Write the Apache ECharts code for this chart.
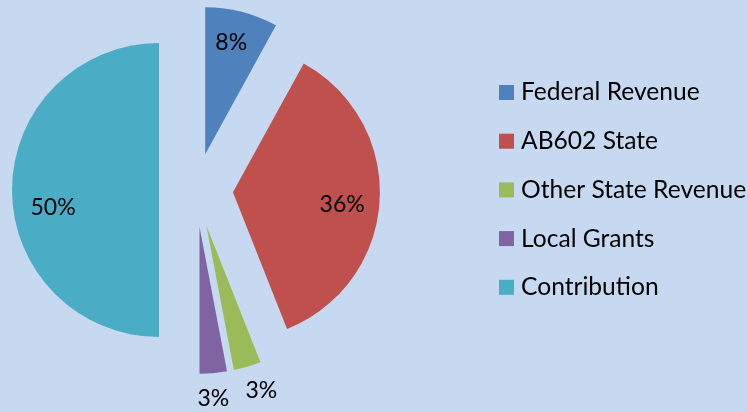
<!DOCTYPE html>
<html><head><meta charset="utf-8">
<script src="https://cdn.jsdelivr.net/npm/echarts@6/dist/echarts.min.js"></script>
<style>html,body{margin:0;padding:0;background:#C6D9F1;}#c{width:748px;height:412px;}</style>
</head><body><div id="c"></div>
<script>
var categories = ['Federal Revenue', 'AB602 State', 'Other State Revenue', 'Local Grants', 'Contribution'];
var values = [8, 36, 3, 3, 50];
var colors = ['#4F81BD', '#C0504D', '#9BBB59', '#8064A2', '#4BACC6'];

var CX = 196, CY = 190, R = 147, OFF = 37;
// label placement: fraction of radius from the slice apex, and angle tweak (deg)
var labelFrac = [0.782, 0.748, 1.186, 1.175, 0.731];
var labelTurn = [-1.3, 3, -2.2, 0.8, -9.6];

var total = values.reduce(function (a, b) { return a + b; }, 0);
function midAngle(i) {
  var s = 0; for (var k = 0; k < i; k++) s += values[k];
  return (s + values[i] / 2) / total * 360;
}
// shift from default inside position (half radius + 3px) to wanted position
function labelShift(i) {
  var a = midAngle(i) * Math.PI / 180;
  var b = (midAngle(i) + labelTurn[i]) * Math.PI / 180;
  var d = labelFrac[i] * R, h = 0.5 * R + 3;
  return [d * Math.sin(b) - h * Math.sin(a), -d * Math.cos(b) + h * Math.cos(a)];
}

var chart = echarts.init(document.getElementById('c'));
chart.setOption({
  backgroundColor: '#C6D9F1',
  animation: false,
  legend: {
    orient: 'vertical', left: 499, top: 80, padding: 0,
    icon: 'rect', itemWidth: 15, itemHeight: 15, itemGap: 23.7,
    selectedMode: false,
    textStyle: { fontFamily: 'Lato', fontSize: 24.6, color: '#000', padding: [0, 0, 0, 2] },
    data: categories
  },
  series: [{
    type: 'pie',
    center: [CX, CY], radius: R,
    startAngle: 90, clockwise: true,
    selectedMode: 'multiple', selectedOffset: OFF,
    avoidLabelOverlap: false,
    emphasis: { disabled: true },
    labelLine: { show: false },
    label: {
      show: true, position: 'inside', color: '#000',
      fontFamily: 'Lato', fontSize: 23,
      formatter: function (p) { return Math.round(p.percent) + '%'; }
    },
    labelLayout: function (p) {
      var s = labelShift(p.dataIndex);
      return { dx: s[0], dy: s[1] };
    },
    data: categories.map(function (n, i) {
      return { name: n, value: values[i], selected: true, itemStyle: { color: colors[i] } };
    })
  }]
});
</script></body></html>
